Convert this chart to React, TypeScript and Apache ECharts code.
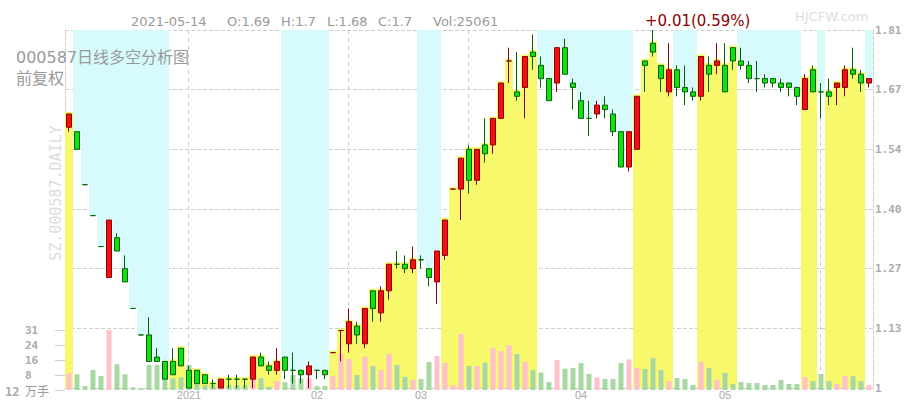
import React, { useEffect, useRef } from 'react';
import * as echarts from 'echarts';

// ---- data (000587, daily, forward-adjusted) ----
const openP = [
  1.59, 1.58, 1.46, 1.39, 1.32, 1.25, 1.34, 1.27, 1.18, 1.12,
  1.12, 1.07, 1.06, 1.06, 1.09, 1.04, 1.04, 1.03, 1.01, 1.00,
  1.02, 1.02, 1.02, 1.02, 1.07, 1.05, 1.04, 1.07, 1.04, 1.04,
  1.03, 1.04, 1.04, 1.08, 1.13, 1.10, 1.14, 1.10, 1.22, 1.17,
  1.22, 1.28, 1.28, 1.27, 1.29, 1.27, 1.24, 1.30, 1.45, 1.45,
  1.54, 1.47, 1.55, 1.55, 1.61, 1.74, 1.67, 1.68, 1.76, 1.73,
  1.70, 1.69, 1.77, 1.69, 1.65, 1.61, 1.62, 1.64, 1.62, 1.58,
  1.50, 1.54, 1.74, 1.78, 1.73, 1.67, 1.72, 1.68, 1.67, 1.66,
  1.73, 1.73, 1.73, 1.77, 1.74, 1.73, 1.70, 1.70, 1.70, 1.69,
  1.69, 1.68, 1.63, 1.72, 1.67, 1.67, 1.68, 1.68, 1.72, 1.71,
  1.69,
];
const closeP = [
  1.62, 1.54, 1.46, 1.39, 1.32, 1.38, 1.31, 1.24, 1.18, 1.12,
  1.06, 1.06, 1.02, 1.03, 1.05, 1.00, 1.01, 1.01, 1.01, 1.02,
  1.02, 1.02, 1.02, 1.07, 1.05, 1.04, 1.06, 1.04, 1.04, 1.03,
  1.05, 1.04, 1.03, 1.08, 1.13, 1.15, 1.12, 1.18, 1.18, 1.22,
  1.28, 1.28, 1.27, 1.29, 1.29, 1.25, 1.31, 1.38, 1.45, 1.52,
  1.47, 1.54, 1.53, 1.61, 1.69, 1.74, 1.66, 1.75, 1.75, 1.70,
  1.65, 1.77, 1.71, 1.68, 1.61, 1.61, 1.64, 1.63, 1.58, 1.50,
  1.58, 1.66, 1.73, 1.76, 1.70, 1.72, 1.68, 1.67, 1.66, 1.75,
  1.71, 1.74, 1.67, 1.74, 1.73, 1.70, 1.70, 1.69, 1.69, 1.68,
  1.68, 1.66, 1.70, 1.67, 1.67, 1.66, 1.69, 1.72, 1.71, 1.69,
  1.70,
];
const lowP = [
  1.58, 1.54, 1.46, 1.39, 1.32, 1.25, 1.31, 1.24, 1.18, 1.12,
  1.06, 1.06, 1.02, 1.03, 1.05, 1.00, 1.01, 1.01, 1.00, 1.00,
  1.00, 1.00, 1.00, 1.00, 1.05, 1.03, 1.03, 1.02, 1.01, 1.01,
  1.00, 1.02, 1.02, 1.08, 1.06, 1.08, 1.10, 1.09, 1.15, 1.15,
  1.20, 1.27, 1.26, 1.26, 1.27, 1.23, 1.19, 1.29, 1.45, 1.38,
  1.44, 1.46, 1.51, 1.53, 1.61, 1.69, 1.65, 1.61, 1.72, 1.68,
  1.65, 1.67, 1.71, 1.63, 1.61, 1.57, 1.61, 1.61, 1.57, 1.50,
  1.49, 1.54, 1.67, 1.75, 1.67, 1.66, 1.66, 1.64, 1.65, 1.65,
  1.67, 1.71, 1.67, 1.72, 1.72, 1.69, 1.67, 1.68, 1.68, 1.67,
  1.66, 1.64, 1.63, 1.67, 1.61, 1.64, 1.64, 1.66, 1.70, 1.67,
  1.68,
];
const highP = [
  1.62, 1.58, 1.46, 1.39, 1.32, 1.38, 1.35, 1.30, 1.18, 1.12,
  1.16, 1.09, 1.06, 1.09, 1.09, 1.05, 1.04, 1.03, 1.02, 1.02,
  1.03, 1.03, 1.02, 1.07, 1.08, 1.06, 1.09, 1.07, 1.08, 1.04,
  1.06, 1.04, 1.04, 1.08, 1.13, 1.18, 1.15, 1.18, 1.22, 1.23,
  1.28, 1.31, 1.30, 1.32, 1.30, 1.27, 1.31, 1.38, 1.45, 1.52,
  1.55, 1.54, 1.61, 1.61, 1.69, 1.77, 1.76, 1.75, 1.80, 1.75,
  1.70, 1.77, 1.79, 1.70, 1.67, 1.65, 1.65, 1.66, 1.63, 1.58,
  1.58, 1.66, 1.74, 1.81, 1.73, 1.78, 1.73, 1.73, 1.68, 1.75,
  1.75, 1.78, 1.78, 1.77, 1.77, 1.74, 1.74, 1.71, 1.70, 1.70,
  1.69, 1.68, 1.71, 1.73, 1.69, 1.70, 1.69, 1.73, 1.77, 1.72,
  1.70,
];
// volume, in 万手
const volumeWan = [
  8.6, 8.1, 2.1, 10.3, 7.2, 31.0, 13.3, 8.1, 1.4, 0.9,
  12.9, 12.9, 7.5, 6.0, 6.5, 13.0, 8.0, 2.5, 2.5, 2.0,
  2.5, 2.5, 2.5, 7.2, 6.2, 1.7, 4.6, 4.0, 7.7, 6.0,
  6.0, 2.1, 2.1, 7.3, 18.8, 16.0, 7.7, 17.2, 12.5, 10.3,
  18.6, 12.9, 6.8, 5.2, 5.7, 14.5, 17.6, 14.0, 2.6, 29.0,
  12.4, 12.4, 14.1, 21.7, 20.1, 23.2, 18.6, 14.5, 10.3, 9.0,
  4.1, 15.5, 11.0, 11.4, 13.9, 8.3, 6.5, 5.7, 5.7, 13.9,
  15.8, 11.2, 10.8, 16.4, 10.3, 4.6, 6.2, 5.7, 2.6, 14.5,
  11.4, 5.2, 8.8, 3.1, 4.1, 3.6, 3.6, 2.6, 2.6, 5.2,
  3.1, 3.1, 6.7, 4.6, 8.3, 4.6, 3.1, 7.1, 7.1, 4.6,
  2.5,
];
// 1 = 多 (yellow, below price), 0 = 空 (cyan, above price)
const bullZone = [
  1,
  0, 0, 0, 0, 0, 0, 0, 0, 0, 0, 0, 0,
  1, 1, 1, 1, 1, 1, 1, 1, 1, 1, 1, 1, 1, 1,
  0, 0, 0, 0, 0, 0,
  1, 1, 1, 1, 1, 1, 1, 1, 1, 1, 1,
  0, 0, 0,
  1, 1, 1, 1, 1, 1, 1, 1, 1, 1, 1, 1,
  0, 0, 0, 0, 0, 0, 0, 0, 0, 0, 0, 0,
  1, 1, 1, 1, 1,
  0, 0, 0,
  1, 1, 1, 1, 1,
  0, 0, 0, 0, 0, 0, 0, 0,
  1, 1,
  0,
  1, 1, 1, 1, 1,
  0,
];
const monthLabels = ['2021', '02', '03', '04', '05'];
const monthLabelIdx = [15, 31, 44, 64, 82];
const monthStartIdx = [15, 35, 50, 73, 94];
const priceTickLabels = ['1', '1.13', '1.27', '1.40', '1.54', '1.67', '1.81'];
const volTickLabels = ['万手', '8', '16', '24', '31'];
const lastDate = '2021-05-14';
const lastVolHands = 25061;

const PRICE_MIN = 1;
const PRICE_MAX = 1.81;
const PRICE_STEP = 0.135;
const VOL_MAX = 31;

const UP_FILL = '#f41010';
const UP_BORDER = '#8b0000';
const DOWN_FILL = '#12e012';
const DOWN_BORDER = '#006400';
const VOL_UP = '#ffc0cb';
const VOL_DOWN = '#a8d8a2';
const YELLOW = '#f8f86c';
const CYAN = '#d7fbfd';
const GRID_LINE = '#cfcfcf';

export default function App() {
  const ref = useRef<HTMLDivElement>(null);

  useEffect(() => {
    if (!ref.current) return;
    const chart = echarts.init(ref.current, null, { renderer: 'svg' });
    const N = openP.length;
    const cats = openP.map((_, i) => String(i));
    const labelAt: Record<number, string> = {};
    monthLabelIdx.forEach((idx, k) => (labelAt[idx] = monthLabels[k]));

    const isUp = (i: number) =>
      closeP[i] > openP[i] ||
      (closeP[i] === openP[i] && i > 0 && closeP[i] > closeP[i - 1]);

    const bodyTop = openP.map((o, i) => Math.max(o, closeP[i]));

    const candleData = openP.map((o, i) => {
      const item: any = { value: [o, closeP[i], lowP[i], highP[i]] };
      if (o === closeP[i]) {
        const c = isUp(i) ? UP_BORDER : DOWN_BORDER;
        item.itemStyle = { borderColor: c, borderColor0: c, borderColorDoji: c };
      }
      return item;
    });

    const last = N - 1;
    const chg = closeP[last] - closeP[last - 1];
    const chgPct = (chg / closeP[last - 1]) * 100;
    const chgText = `${chg >= 0 ? '+' : ''}${chg.toFixed(2)}(${chgPct.toFixed(2)}%)`;

    const headerFont = '13px "DejaVu Sans"';
    const txt = (text: string, x: number, y: number, font: string, fill: string, extra: any = {}) => ({
      type: 'text',
      x,
      y,
      z: 20,
      silent: true,
      style: {
        text,
        font,
        fill,
        textAlign: 'left',
        align: 'left',
        textVerticalAlign: 'middle',
        verticalAlign: 'middle',
        ...extra,
      },
    });

    const option: any = {
      animation: false,
      backgroundColor: '#ffffff',
      grid: [
        { left: 65, right: 32, top: 30, bottom: 10 },
        { left: 65, right: 32, top: 330, bottom: 10 },
      ],
      xAxis: [
        {
          type: 'category',
          gridIndex: 0,
          data: cats,
          boundaryGap: true,
          axisLine: { show: false },
          axisTick: { show: false },
          splitLine: { show: false },
          axisLabel: {
            interval: 0,
            margin: 1,
            color: '#aaaaaa',
            fontSize: 11,
            fontFamily: '"Liberation Sans", Arial, sans-serif',
            formatter: (_v: string, idx: number) => labelAt[idx] ?? '',
          },
        },
        {
          type: 'category',
          gridIndex: 1,
          data: cats,
          boundaryGap: true,
          show: false,
        },
      ],
      yAxis: [
        {
          type: 'value',
          gridIndex: 0,
          position: 'right',
          min: PRICE_MIN,
          max: PRICE_MAX,
          interval: PRICE_STEP,
          axisLine: { show: true, lineStyle: { color: GRID_LINE, type: 'dashed' } },
          axisTick: { show: false },
          splitLine: { show: true, lineStyle: { color: GRID_LINE, type: 'dashed' } },
          axisLabel: {
            margin: 2,
            color: '#aaaaaa',
            fontSize: 11,
            fontWeight: 'bold',
            fontFamily: '"DejaVu Sans Mono", monospace',
            formatter: (_v: number, idx: number) => priceTickLabels[idx] ?? '',
          },
        },
        {
          type: 'value',
          gridIndex: 1,
          position: 'left',
          min: 0,
          max: VOL_MAX,
          interval: VOL_MAX / 4,
          axisLine: { show: false },
          axisTick: { show: true, length: 10, lineStyle: { color: GRID_LINE } },
          splitLine: { show: false },
          axisLabel: {
            align: 'left',
            margin: 40,
            formatter: (_v: number, idx: number) =>
              idx === 0 ? `{u|${volTickLabels[0]}}` : `{n|${volTickLabels[idx] ?? ''}}`,
            rich: {
              n: {
                color: '#aaaaaa',
                fontSize: 11,
                fontWeight: 'bold',
                fontFamily: '"DejaVu Sans Mono", monospace',
              },
              u: {
                color: '#999999',
                fontSize: 12,
                fontFamily: '"Noto Sans CJK SC", sans-serif',
              },
            },
          },
        },
        {
          type: 'value',
          gridIndex: 0,
          position: 'left',
          min: PRICE_MIN,
          max: PRICE_MAX,
          axisLine: { show: true, lineStyle: { color: GRID_LINE, type: 'dashed' } },
          axisTick: { show: false },
          axisLabel: { show: false },
          splitLine: { show: false },
        },
      ],
      series: [
        {
          type: 'custom',
          name: 'monthLines',
          xAxisIndex: 0,
          yAxisIndex: 0,
          z: 0,
          silent: true,
          data: monthStartIdx.map((i) => [i, PRICE_MIN]),
          encode: { x: 0, y: 1 },
          renderItem: (_p: any, api: any) => {
            const idx = api.value(0);
            const a = api.coord([idx, PRICE_MAX]);
            const b = api.coord([idx, PRICE_MIN]);
            const x = Math.round(a[0]) - 0.5;
            return {
              type: 'line',
              shape: { x1: x, y1: a[1], x2: x, y2: b[1] },
              style: { stroke: GRID_LINE, lineWidth: 1, lineDash: [4, 4] },
            };
          },
        },
        {
          type: 'custom',
          name: 'zones',
          xAxisIndex: 0,
          yAxisIndex: 0,
          z: 1,
          silent: true,
          data: bodyTop.map((t, i) => [i, t, bullZone[i]]),
          encode: { x: 0, y: 1 },
          renderItem: (_p: any, api: any) => {
            const idx = api.value(0);
            const top = api.value(1);
            const bull = api.value(2);
            const w = api.size([1, 0])[0];
            const pt = api.coord([idx, top]);
            const yBottom = api.coord([idx, PRICE_MIN])[1];
            const yTop = api.coord([idx, PRICE_MAX])[1];
            const x = pt[0] - w / 2;
            if (bull) {
              const y = pt[1] - 2;
              return {
                type: 'rect',
                shape: { x, y, width: w, height: yBottom - y },
                style: { fill: YELLOW },
              };
            }
            return {
              type: 'rect',
              shape: { x, y: yTop, width: w, height: pt[1] - yTop },
              style: { fill: CYAN },
            };
          },
        },
        {
          type: 'bar',
          name: 'volume',
          xAxisIndex: 1,
          yAxisIndex: 1,
          z: 2,
          silent: true,
          barWidth: 5,
          data: volumeWan.map((v, i) => ({
            value: v,
            itemStyle: { color: isUp(i) ? VOL_UP : VOL_DOWN },
          })),
        },
        {
          type: 'candlestick',
          name: 'K',
          xAxisIndex: 0,
          yAxisIndex: 0,
          z: 3,
          silent: true,
          barWidth: 6,
          itemStyle: {
            color: UP_FILL,
            color0: DOWN_FILL,
            borderColor: UP_BORDER,
            borderColor0: DOWN_BORDER,
            borderWidth: 1,
          },
          data: candleData,
        },
      ],
      graphic: [
        txt(lastDate, 131, 21, headerFont, '#999999'),
        txt(`O:${openP[last]}`, 227, 21, headerFont, '#999999'),
        txt(`H:${highP[last]}`, 281, 21, headerFont, '#999999'),
        txt(`L:${lowP[last]}`, 327, 21, headerFont, '#999999'),
        txt(`C:${closeP[last]}`, 378, 21, headerFont, '#999999'),
        txt(`Vol:${lastVolHands}`, 433, 21, headerFont, '#999999'),
        txt(chgText, 645, 21, '15px "DejaVu Sans"', '#8b0000'),
        txt('HJCFW.com', 795, 16, '13px "DejaVu Sans"', '#dddddd'),
        txt('000587日线多空分析图', 16, 57, '16px "DejaVu Sans", "Noto Sans CJK SC"', '#999999'),
        txt('前复权', 16, 77, '16px "Noto Sans CJK SC"', '#999999'),
        {
          type: 'text',
          x: 56,
          y: 193,
          rotation: Math.PI / 2,
          z: 20,
          silent: true,
          style: {
            text: 'SZ.000587.DAILY',
            font: '15px "DejaVu Sans Mono"',
            fill: '#dddddd',
            textAlign: 'center',
            align: 'center',
            textVerticalAlign: 'middle',
            verticalAlign: 'middle',
          },
        },
        txt('12', 5, 392, 'bold 12px "DejaVu Sans Mono"', '#aaaaaa'),
      ],
    };

    chart.setOption(option);
    return () => chart.dispose();
  }, []);

  return (
    <div
      ref={ref}
      style={{ position: 'absolute', left: 0, top: 0, width: 905, height: 400, background: '#ffffff' }}
    />
  );
}
